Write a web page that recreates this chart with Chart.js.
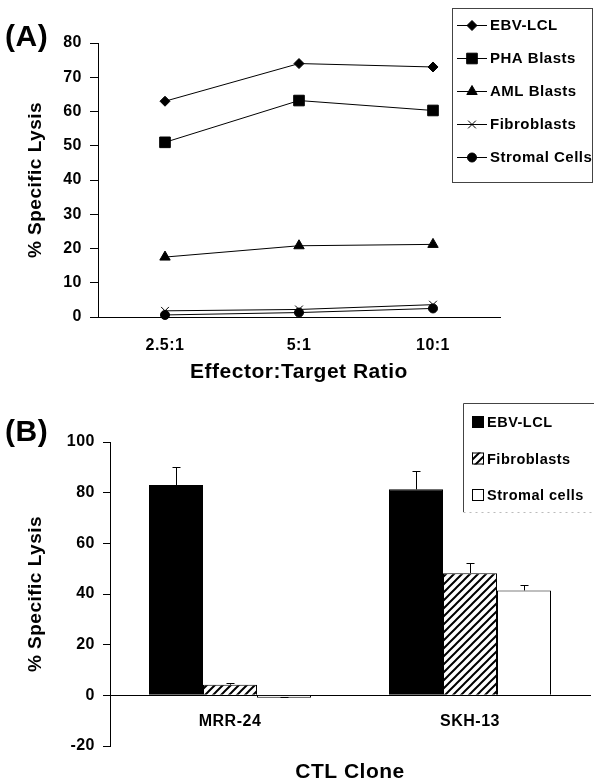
<!DOCTYPE html>
<html>
<head>
<meta charset="utf-8">
<script src="https://cdn.jsdelivr.net/npm/chart.js@4.4.0/dist/chart.umd.min.js"></script>
<style>
  body { margin: 0; background: #fff; }
  #wrap { position: relative; width: 594px; height: 783px; overflow: hidden; }
  canvas { position: absolute; left: 0; }
</style>
</head>
<body>
<div id="wrap">
  <canvas id="chartA" width="594" height="400" style="top:0"></canvas>
  <canvas id="chartB" width="594" height="403" style="top:380px"></canvas>
</div>
<script>
// panel A - lysis vs E:T ratio
const ratios = ['2.5:1', '5:1', '10:1'];
const targetsA = ['EBV-LCL', 'PHA Blasts', 'AML Blasts', 'Fibroblasts', 'Stromal Cells'];
const ebvLcl = [63, 74, 73];
const phaBlasts = [51, 63.2, 60.3];
const amlBlasts = [17.5, 20.8, 21.2];
const fibroblasts = [1.8, 2.2, 3.6];
const stromalCells = [0.6, 1.3, 2.5];
const markersA = ['rectRot', 'rect', 'triangle', 'crossRot', 'circle'];
const radiiA = [5, 7.5, 6, 5.5, 4.5];

// panel B - lysis per CTL clone
const clones = ['MRR-24', 'SKH-13'];
const targetsB = ['EBV-LCL', 'Fibroblasts', 'Stromal cells'];
const lysisEbv = [83, 81.3];
const lysisFibro = [4.2, 48.2];
const lysisStromal = [-1, 41.4];
const errEbv = [7, 7.1];
const errFibro = [0.7, 3.9];
const errStromal = [0.3, 2];

const FONT = '"Liberation Sans", Arial, Helvetica, sans-serif';
Chart.defaults.font.family = FONT;
Chart.defaults.font.weight = 'bold';
Chart.defaults.font.size = 16;
Chart.defaults.color = '#000';

// a little tracking, the original type is set wide
const spacing = {
  id: 'spacing',
  beforeUpdate(chart) { chart.ctx.letterSpacing = '0.5px'; },
  beforeDraw(chart) { chart.ctx.letterSpacing = '0.5px'; }
};

function hatch() {
  const c = document.createElement('canvas');
  c.width = 8; c.height = 8;
  const g = c.getContext('2d');
  g.fillStyle = '#fff';
  g.fillRect(0, 0, 8, 8);
  g.strokeStyle = '#000';
  g.lineWidth = 2;
  g.beginPath();
  g.moveTo(0, 8); g.lineTo(8, 0);
  g.moveTo(-2, 2); g.lineTo(2, -2);
  g.moveTo(6, 10); g.lineTo(10, 6);
  g.stroke();
  return g.createPattern(c, 'repeat');
}

function line(ctx, x1, y1, x2, y2) {
  ctx.beginPath();
  ctx.moveTo(x1, y1);
  ctx.lineTo(x2, y2);
  ctx.stroke();
}

const decorA = {
  id: 'decorA',
  afterDraw(chart) {
    const ctx = chart.ctx;
    ctx.save();
    ctx.lineWidth = 1;
    ctx.strokeStyle = '#444';
    ctx.strokeRect(452.5, 8.5, 140, 174);
    ctx.font = 'bold 15px ' + FONT;
    ctx.textBaseline = 'middle';
    ctx.textAlign = 'left';
    ctx.fillStyle = '#000';
    ctx.strokeStyle = '#000';
    targetsA.forEach((name, i) => {
      const y = 25 + i * 33;
      line(ctx, 457, y + 0.5, 487, y + 0.5);
      Chart.helpers.drawPoint(ctx, { pointStyle: markersA[i], radius: radiiA[i], borderWidth: 1, rotation: 0 }, 472, y + 0.5);
      ctx.fillText(name, 490, y + 1);
    });
    ctx.font = 'bold 30px ' + FONT;
    ctx.fillText('(A)', 5, 38);
    ctx.restore();
  }
};

const seriesA = [ebvLcl, phaBlasts, amlBlasts, fibroblasts, stromalCells];

new Chart(document.getElementById('chartA'), {
  type: 'line',
  data: {
    labels: ratios,
    datasets: seriesA.map((vals, i) => ({
      label: targetsA[i],
      data: vals,
      borderColor: '#000',
      borderWidth: 1,
      backgroundColor: '#000',
      pointStyle: markersA[i],
      pointRadius: radiiA[i],
      pointBackgroundColor: '#000',
      pointBorderColor: '#000',
      pointBorderWidth: 1,
      clip: false
    }))
  },
  options: {
    responsive: false,
    animation: false,
    events: [],
    layout: { padding: { top: 43, right: 94, left: 0, bottom: 0 } },
    plugins: { legend: { display: false }, tooltip: { enabled: false } },
    scales: {
      x: {
        offset: true,
        afterFit(s) { s.height = 83; },
        grid: { drawOnChartArea: false, drawTicks: false },
        border: { color: '#000', width: 1 },
        ticks: { padding: 19 },
        title: { display: true, text: 'Effector:Target Ratio', font: { size: 21 }, padding: { top: 0, bottom: 15 } }
      },
      y: {
        min: 0,
        max: 80,
        afterFit(s) { s.width = 98; },
        ticks: { stepSize: 10, padding: 8 },
        grid: { drawOnChartArea: false, tickLength: 8, color: '#000' },
        border: { color: '#000', width: 1 },
        title: { display: true, text: '% Specific Lysis', font: { size: 19 }, padding: { top: 24, bottom: 0 } }
      }
    }
  },
  plugins: [spacing, decorA]
});

const valuesB = [lysisEbv, lysisFibro, lysisStromal];
const errorsB = [errEbv, errFibro, errStromal];
const fillsB = ['#000', hatch(), '#fff'];

const decorB = {
  id: 'decorB',
  afterDatasetsDraw(chart) {
    const ctx = chart.ctx;
    const yScale = chart.scales.y;
    ctx.save();
    ctx.strokeStyle = '#000';
    ctx.lineWidth = 1;
    valuesB.forEach((vals, i) => {
      chart.getDatasetMeta(i).data.forEach((bar, j) => {
        const x = Math.round(bar.x) + 0.5;
        const top = Math.round(yScale.getPixelForValue(vals[j] + errorsB[i][j])) + 0.5;
        line(ctx, x, bar.y, x, top);
        line(ctx, x - 4, top, x + 4, top);
      });
    });
    ctx.restore();
  },
  afterDraw(chart) {
    const ctx = chart.ctx;
    ctx.save();
    ctx.lineWidth = 1;
    ctx.strokeStyle = '#444';
    line(ctx, 463.5, 132, 463.5, 23.5);
    line(ctx, 463.5, 23.5, 594, 23.5);
    ctx.strokeStyle = '#bbb';
    ctx.setLineDash([2, 4]);
    line(ctx, 463.5, 132.5, 594, 132.5);
    ctx.setLineDash([]);
    ctx.font = 'bold 14.5px ' + FONT;
    ctx.textBaseline = 'middle';
    ctx.textAlign = 'left';
    targetsB.forEach((name, i) => {
      const y = 42 + i * 36.5;
      ctx.fillStyle = fillsB[i];
      ctx.fillRect(472, y - 6, 12, 12);
      ctx.strokeStyle = '#000';
      ctx.strokeRect(472.5, y - 5.5, 11, 11);
      ctx.fillStyle = '#000';
      ctx.fillText(name, 487, y + 1);
    });
    ctx.font = 'bold 30px ' + FONT;
    ctx.fillText('(B)', 5, 53);
    ctx.restore();
  }
};

new Chart(document.getElementById('chartB'), {
  type: 'bar',
  data: {
    labels: clones,
    datasets: valuesB.map((vals, i) => ({
      label: targetsB[i],
      data: vals,
      backgroundColor: fillsB[i],
      borderColor: '#000',
      borderWidth: 1
    }))
  },
  options: {
    responsive: false,
    animation: false,
    events: [],
    datasets: { bar: { categoryPercentage: 0.675, barPercentage: 1 } },
    layout: { padding: { top: 62, bottom: 37, left: 0, right: 4 } },
    plugins: { legend: { display: false }, tooltip: { enabled: false } },
    scales: {
      x: {
        position: { y: 0 },
        grid: { drawOnChartArea: false, drawTicks: false },
        border: { color: '#000', width: 1 },
        ticks: { padding: 17 },
        title: { display: true, text: 'CTL Clone', font: { size: 21 }, padding: { top: 11, bottom: 0 } }
      },
      y: {
        min: -20,
        max: 100,
        afterFit(s) { s.width = 110; },
        ticks: { stepSize: 20, padding: 8 },
        grid: { drawOnChartArea: false, tickLength: 7, color: '#000' },
        border: { color: '#000', width: 1 },
        title: { display: true, text: '% Specific Lysis', font: { size: 19 }, padding: { top: 24, bottom: 0 } }
      }
    }
  },
  plugins: [spacing, decorB]
});
</script>
</body>
</html>
